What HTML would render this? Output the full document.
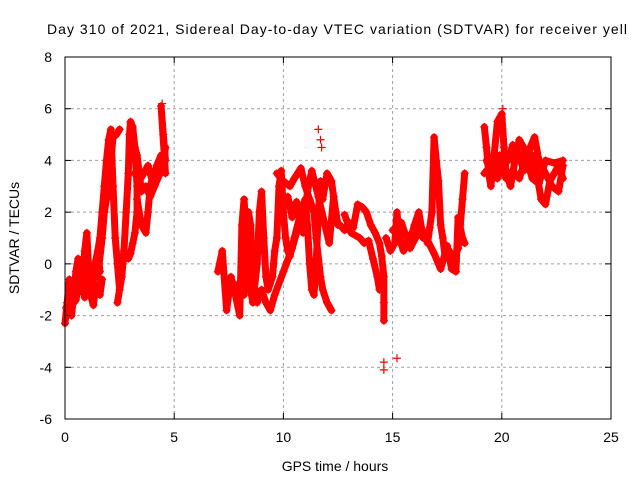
<!DOCTYPE html>
<html><head><meta charset="utf-8"><style>
html,body{margin:0;padding:0;background:#fff;overflow:hidden}
svg{display:block;font-family:"Liberation Sans",sans-serif}
</style></head><body>
<svg id="c" width="640" height="480" xmlns="http://www.w3.org/2000/svg">
<text x="47" y="34" font-size="14" textLength="580" lengthAdjust="spacing" fill="#000">Day 310 of 2021, Sidereal Day-to-day VTEC variation (SDTVAR) for receiver yell</text>
<text x="335" y="471" font-size="14" text-anchor="middle">GPS time / hours</text>
<text transform="translate(19,238) rotate(-90)" font-size="14" text-anchor="middle">SDTVAR / TECUs</text>
<g id="grid"></g><g id="marks"></g><g id="axes"></g>
</svg>
<script>
const xTicks=[0,5,10,15,20,25];
const yTicks=[-6,-4,-2,0,2,4,6,8];
const trackA=[[0,-2.3],[0.1,-1.5],[0.2,-0.6],[0.3,-2.0],[0.4,-1.2],[0.5,-0.3],[0.6,0.2],[0.7,-1.0],[0.8,-1.1],[0.9,0.5],[1.0,1.2],[1.1,-0.5],[1.2,-1.3],[1.3,-1.6],[1.4,-0.9],[1.5,-0.8],[1.6,-1.2],[1.7,-0.6]];
const trackB=[[0.05,-1.7],[0.3,-1.3],[0.6,-1.0],[0.9,-0.8],[1.2,-0.6],[1.5,-0.5],[1.7,1.0],[1.8,2.0],[1.9,2.5],[2.0,3.2],[2.1,4.0],[2.2,4.9],[2.35,5.0],[2.5,5.2]];
const trackC=[[1.2,-1.0],[1.4,0.0],[1.6,1.0],[1.7,2.0],[1.8,3.0],[1.9,4.0],[2.0,4.8],[2.1,5.2],[2.2,3.0],[2.3,1.0],[2.4,0.0],[2.5,-1.0],[2.4,-1.5],[2.6,-0.5],[2.7,0.5]];
const trackD=[[2.6,-0.2],[2.7,0.5],[2.8,2.0],[2.9,3.5],[2.95,5.0],[3.0,5.5],[3.1,5.3],[3.2,4.5],[3.3,3.0],[3.3,2.0],[3.2,1.2],[3.1,0.8],[3.0,0.4],[2.9,0.2]];
const trackE=[[3.2,3.5],[3.4,3.2],[3.6,3.5],[3.8,3.8],[4.0,3.2],[4.2,3.8],[4.4,4.2],[4.6,4.0],[4.5,5.0],[4.4,6.1],[4.6,3.5]];
const trackF=[[3.3,2.5],[3.5,1.5],[3.7,1.2],[3.8,2.0],[3.9,3.0],[4.1,3.6]];
const trackP=[[3.1,4.8],[3.3,4.2],[3.5,2.8],[3.7,3.0],[3.9,2.6],[4.1,3.0],[4.3,3.4],[4.5,3.9],[4.6,4.5]];
const trackQ=[[0.1,-2.0],[0.3,-1.6],[0.5,-1.4],[0.7,-0.4],[0.9,-1.3],[1.1,-1.1],[1.3,-0.3],[1.5,0.5],[1.6,-0.3]];
const trackG=[[7.0,-0.3],[7.2,0.5],[7.4,-1.8],[7.6,-0.5],[7.8,-1.2],[8.0,-2.0],[8.1,1.5],[8.2,2.5],[8.3,1.0],[8.4,-0.5],[8.6,-1.5],[8.8,0],[8.9,2.0],[9.0,2.8],[9.1,1.0],[9.2,-0.5],[9.3,-1.0],[9.5,-0.5],[9.6,0.5],[9.7,1.0],[9.8,3.0],[9.9,3.6],[10.0,2.0],[10.1,1.0],[10.2,0.5],[10.3,0.3],[10.5,1.0],[10.8,2.0],[11.0,2.5],[11.1,1.5],[11.2,0.0],[11.3,-1.0],[11.4,-1.2],[11.5,0],[11.6,2],[11.7,3.2],[11.8,2.5],[12.0,3.5],[12.2,3.2],[12.4,2.0],[12.5,1.5]];
const trackH=[[9.7,3.5],[10.0,3.2],[10.3,3.0],[10.5,3.3],[10.8,3.7],[11.0,3.0],[11.2,2.5],[11.4,2.0],[11.5,1.0],[11.7,-0.5],[11.8,-1.0],[12.0,-1.5],[12.2,-1.8]];
const trackI=[[7.6,-1.0],[7.9,-0.8],[8.2,-1.2],[8.4,2.0],[8.5,1.5],[8.6,-0.5],[8.8,-1.5],[9.0,-1.0],[9.2,-1.5],[9.4,-1.8],[9.6,-1.2],[10.0,-0.3],[10.4,0.6],[10.7,1.5]];
const trackR=[[10.2,2.6],[10.4,1.8],[10.6,2.4],[10.9,1.2],[11.1,2.8],[11.3,3.6],[11.6,2.6],[11.9,1.5],[12.1,0.8],[12.3,2.6]];
const trackJ=[[12.6,1.5],[12.8,1.3],[13.0,1.6],[13.2,1.4],[13.4,2.3],[13.6,2.2],[13.8,2.0],[14.0,1.5],[14.2,1.2],[14.4,0.8],[14.5,0.3],[14.6,-0.5],[14.6,-1.5],[14.6,-2.2]];
const trackK=[[12.8,1.9],[13.1,1.2],[13.5,1.0],[13.7,0.8],[13.9,0.9],[14.1,0.2],[14.3,-0.5],[14.4,-1.0]];
const trackL=[[14.7,1.0],[14.9,0.5],[15.1,0.8],[15.2,2.0],[15.3,1.0],[15.5,0.5],[15.7,1.0],[15.9,1.2],[16.0,1.5],[16.2,2.0],[16.4,1.0],[16.5,1.2],[16.6,0.8],[16.7,1.4],[16.8,2.0],[16.9,4.9],[17.0,4.0],[17.1,3.2],[17.2,1.5],[17.3,1.0],[17.4,0.3],[17.6,0.5],[17.8,0.2],[18.0,0.6],[18.1,1.5],[18.2,2.5],[18.3,3.5]];
const trackM=[[15.0,1.3],[15.4,1.6],[15.8,0.6],[16.3,1.4],[16.9,0.4],[17.1,0],[17.2,-0.2],[17.5,0.7],[17.7,-0.2],[17.9,-0.3],[18.0,1.8],[18.2,1.0],[18.3,0.8]];
const trackN=[[19.2,5.3],[19.3,4.5],[19.4,3.5],[19.5,3.0],[19.6,3.8],[19.8,5.5],[20.0,5.8],[20.1,4.5],[20.2,3.5],[20.4,3.0],[20.6,4.0],[20.8,4.8],[21.0,4.5],[21.2,3.8],[21.4,4.2],[21.6,3.5],[21.8,2.5],[22.0,2.3],[22.2,3.2],[22.4,3.5],[22.6,3.8],[22.8,3.3]];
const trackO=[[19.2,3.5],[19.5,3.8],[19.8,3.3],[20.0,3.8],[20.3,4.0],[20.5,4.6],[20.8,4.2],[21.0,3.6],[21.3,4.5],[21.5,4.9],[21.7,4.0],[22.0,3.5],[22.3,3.0],[22.6,2.8],[22.8,3.8]];
const trackS=[[19.3,4.0],[19.6,3.3],[19.9,4.2],[20.2,3.3],[20.5,3.6],[20.8,3.3],[21.1,4.1],[21.4,3.3],[21.7,3.1],[22.0,4.0],[22.4,3.9],[22.8,4.0]];
const outliers=[[14.6,-3.8],[14.6,-4.1],[15.2,-3.65],[11.6,5.2],[11.7,4.8],[11.75,4.5],[4.45,6.2],[20.05,6.0]];
const tracks=[trackA,trackB,trackC,trackD,trackE,trackF,trackP,trackQ,trackG,trackH,trackI,trackR,trackJ,trackK,trackL,trackM,trackN,trackO,trackS];

const X0=65,X1=611,Y0=419,Y1=57;
const sx=h=>X0+(h-0)/(25-0)*(X1-X0);
const sy=v=>Y0-(v+6)/(8+6)*(Y0-Y1);
const NS="http://www.w3.org/2000/svg";
const grid=document.getElementById('grid'),marks=document.getElementById('marks'),axes=document.getElementById('axes');
function mk(t,a,p){const e=document.createElementNS(NS,t);for(const k in a)e.setAttribute(k,a[k]);p.appendChild(e);return e;}

xTicks.forEach(t=>{
  const x=sx(t);
  if(t>0&&t<25){const g=mk('line',{x1:x,x2:x,y1:Y1,y2:Y0,stroke:'#a0a0a0','stroke-dasharray':'3,3'},grid);
  
  }
  const l=mk('text',{x:x,y:Y0+23,'font-size':14,'text-anchor':'middle'},axes);l.textContent=t;
  
  
  mk('line',{x1:x,x2:x,y1:Y0,y2:Y0-6,stroke:'#000'},axes);
  mk('line',{x1:x,x2:x,y1:Y1,y2:Y1+6,stroke:'#000'},axes);
});
yTicks.forEach(t=>{
  const y=sy(t);
  if(t>-6&&t<8){const g=mk('line',{x1:X0,x2:X1,y1:y,y2:y,stroke:'#a0a0a0','stroke-dasharray':'3,3'},grid);
  
  }
  const l=mk('text',{x:X0-13,y:y+5,'font-size':14,'text-anchor':'end'},axes);l.textContent=t;
  
  
  mk('line',{x1:X0,x2:X0+6,y1:y,y2:y,stroke:'#000'},axes);
  mk('line',{x1:X1,x2:X1-6,y1:y,y2:y,stroke:'#000'},axes);
});
const fr=mk('rect',{x:X0,y:Y1,width:X1-X0,height:Y0-Y1,fill:'none',stroke:'#000'},axes);



function plus(h,v){
  const x=sx(h),y=sy(v);
  const p=mk('path',{d:`M${x-4},${y}H${x+4}M${x},${y-4}V${y+4}`,stroke:'#f00','stroke-width':1.2,fill:'none'},marks);
  
  
}
tracks.forEach(tr=>{
  const pl=mk('polyline',{points:tr.map(p=>sx(p[0])+','+sy(p[1])).join(' '),stroke:'#f00','stroke-width':7,fill:'none','stroke-linejoin':'round','stroke-linecap':'round'},marks);
  
  
  tr.forEach(p=>plus(p[0],p[1]));
});
outliers.forEach(p=>plus(p[0],p[1]));
</script>
</body></html>
